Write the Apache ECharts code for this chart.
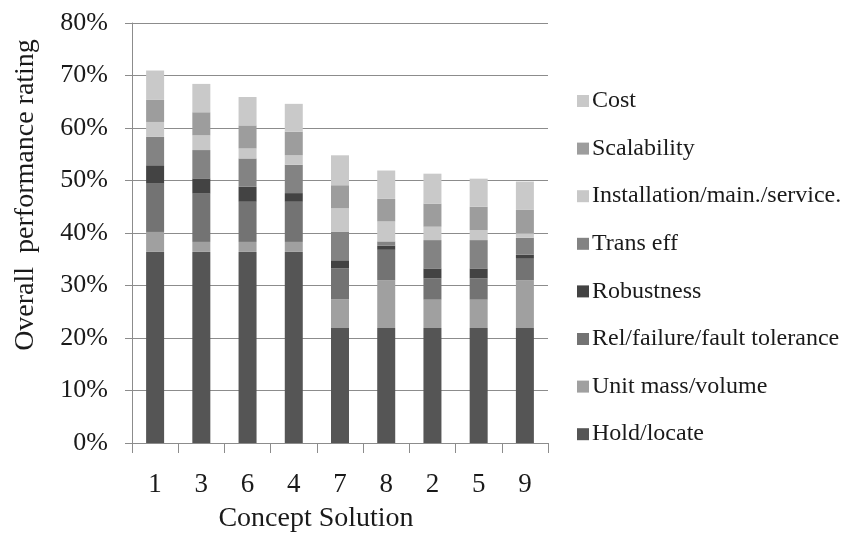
<!DOCTYPE html>
<html>
<head>
<meta charset="utf-8">
<script src="https://cdn.jsdelivr.net/npm/echarts@6/dist/echarts.min.js"></script>
<style>
  html, body { margin: 0; padding: 0; background: #fff; }
  #chart { width: 846px; height: 535px; }
</style>
</head>
<body>
<div id="chart"></div>
<script>
// Concept solutions, ordered by overall rating
const concepts = ['1', '3', '6', '4', '7', '8', '2', '5', '9'];

// Weighted contribution of each criterion (percent of total)
const holdLocate     = [36.4, 36.4, 36.4, 36.4, 21.9, 21.9, 21.9, 21.9, 21.9];
const unitMassVolume = [3.8, 1.9, 1.9, 1.9, 5.5, 9.1, 5.4, 5.4, 9.1];
const relFailure     = [9.2, 9.2, 7.65, 7.65, 5.85, 5.8, 4.05, 4.05, 4.1];
const robustness     = [3.5, 2.9, 2.85, 1.65, 1.55, 0.8, 1.9, 1.9, 0.75];
const transEff       = [5.4, 5.4, 5.4, 5.4, 5.4, 0.8, 5.4, 5.4, 3.25];
const installation   = [2.85, 2.8, 1.9, 1.8, 4.5, 3.8, 2.55, 1.9, 0.85];
const scalability    = [4.2, 4.4, 4.4, 4.5, 4.4, 4.3, 4.4, 4.45, 4.45];
const cost           = [5.6, 5.4, 5.4, 5.3, 5.7, 5.4, 5.7, 5.35, 5.4];

const yTicks = { min: 0, max: 80, interval: 10 };

const serif = '"Liberation Serif", "Times New Roman", serif';
const textColor = '#1a1a1a';
const lineColor = '#8c8c8c';

const stackDefs = [
  { name: 'Hold/locate', data: holdLocate, color: '#555555' },
  { name: 'Unit mass/volume', data: unitMassVolume, color: '#a0a0a0' },
  { name: 'Rel/failure/fault tolerance', data: relFailure, color: '#737373' },
  { name: 'Robustness', data: robustness, color: '#434343' },
  { name: 'Trans eff', data: transEff, color: '#838383' },
  { name: 'Installation/main./service.', data: installation, color: '#c8c8c8' },
  { name: 'Scalability', data: scalability, color: '#9d9d9d' },
  { name: 'Cost', data: cost, color: '#c9c9c9' }
];

const chart = echarts.init(document.getElementById('chart'), null, { renderer: 'canvas' });

chart.setOption({
  animation: false,
  backgroundColor: '#ffffff',
  grid: { left: 132, right: 298, top: 23, bottom: 92, containLabel: false },
  legend: {
    orient: 'vertical',
    left: 572,
    top: 84,
    itemWidth: 12,
    itemHeight: 12,
    itemGap: 23.6,
    icon: 'rect',
    data: stackDefs.map(s => s.name).reverse(),
    textStyle: { fontFamily: serif, fontSize: 24, color: textColor, padding: [0, 0, 0, -2] }
  },
  xAxis: {
    type: 'category',
    data: concepts,
    axisLine: { lineStyle: { color: lineColor, width: 1 } },
    axisTick: { show: true, length: 10, lineStyle: { color: lineColor } },
    axisLabel: { fontFamily: serif, fontSize: 27, color: textColor, margin: 28 }
  },
  yAxis: {
    type: 'value',
    min: yTicks.min,
    max: yTicks.max,
    interval: yTicks.interval,
    axisLine: { show: true, lineStyle: { color: lineColor, width: 1 } },
    axisTick: { show: true, length: 7, lineStyle: { color: lineColor } },
    splitLine: { show: true, lineStyle: { color: lineColor, width: 1 } },
    axisLabel: { formatter: '{value}%', fontFamily: serif, fontSize: 26, color: textColor, margin: 24 }
  },
  series: stackDefs.map(s => ({
    name: s.name,
    type: 'bar',
    stack: 'rating',
    barWidth: 18,
    data: s.data,
    itemStyle: { color: s.color }
  })),
  graphic: [
    {
      type: 'text',
      x: 26,
      y: 195,
      rotation: Math.PI / 2,
      style: {
        text: 'Overall  performance rating',
        fontFamily: serif,
        fontSize: 28,
        fill: textColor,
        align: 'center',
        verticalAlign: 'middle'
      }
    },
    {
      type: 'text',
      x: 316,
      y: 519,
      style: {
        text: 'Concept Solution',
        fontFamily: serif,
        fontSize: 28,
        fill: textColor,
        align: 'center',
        verticalAlign: 'middle'
      }
    }
  ]
});
</script>
</body>
</html>
